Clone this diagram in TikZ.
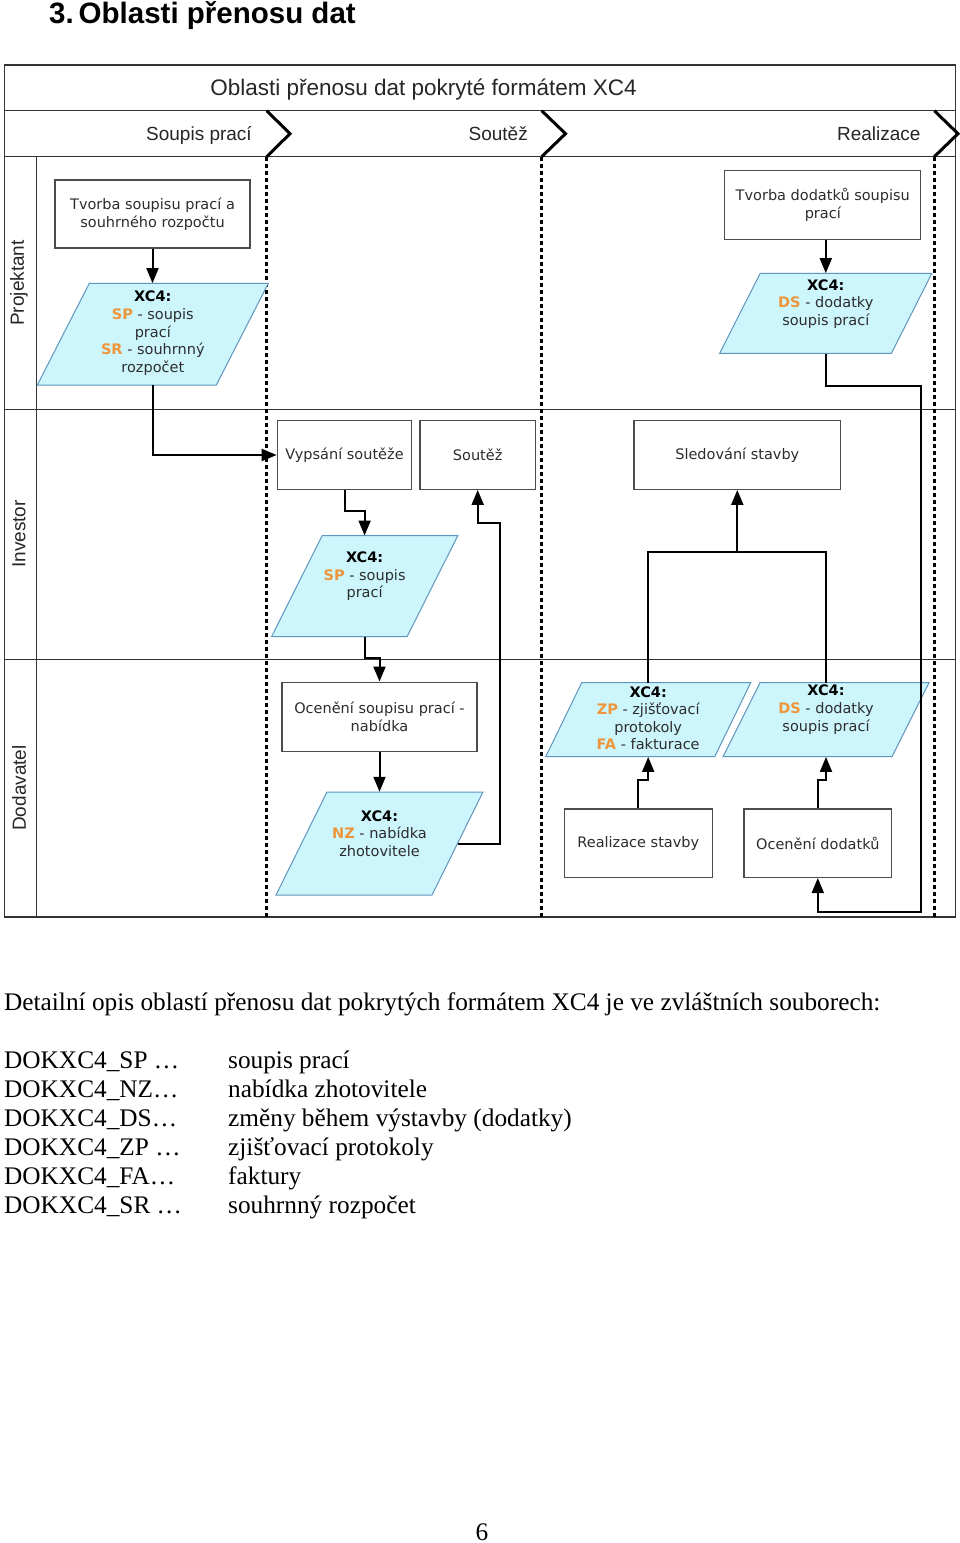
\documentclass[tikz,border=0pt]{standalone}
\usepackage{fontspec}
\setmainfont{Liberation Serif}
\newfontfamily\arialf{Liberation Sans}
\newfontfamily\verdf{DejaVu Sans}
\usetikzlibrary{arrows.meta,calc}
\definecolor{parafill}{RGB}{205,245,252}
\definecolor{paraedge}{RGB}{95,150,190}
\definecolor{xcorange}{RGB}{238,150,60}
\definecolor{boxtext}{RGB}{45,45,45}
\newcommand{\xo}[1]{\textcolor{xcorange}{\textbf{#1}}}
\newcommand{\xcpara}[8]{%
  \path[parashape] ({#2-#4/2+#6/2},{#3-#5/2}) -- ({#2+#4/2+#6/2},{#3-#5/2}) -- ({#2+#4/2-#6/2},{#3+#5/2}) -- ({#2-#4/2-#6/2},{#3+#5/2}) -- cycle;
  \node[paranode, minimum width=#4, minimum height=#5] (#1) at (#2,#3) {};
  \node[paratext] (#1-t) at ({#2},{#3+(#7)}) {#8};
}
\tikzset{
  frame/.style={draw=black!80, line width=1.6pt},
  laneline/.style={draw=black!80, line width=1.3pt},
  phasedot/.style={draw=black, line width=3.2pt, dash pattern=on 4pt off 3pt},
  chev/.style={draw=black, line width=3pt, line join=miter},
  procbox/.style={draw=black!70, line width=1.3pt, fill=white, font=\verdf\fontsize{14.5}{17.5}\selectfont, text=boxtext, align=center, inner sep=0pt},
  parashape/.style={draw=paraedge, fill=parafill, line width=1pt},
  paranode/.style={inner sep=0pt, draw=none},
  paratext/.style={inner sep=0pt, align=center, text=boxtext, font=\verdf\fontsize{14.5}{17.6}\selectfont},
  conn/.style={draw=black, line width=2pt, -{Triangle[length=15pt,width=12pt]}},
  plainconn/.style={draw=black, line width=2pt},
  headtitle/.style={font=\arialf\fontsize{22.5}{26}\selectfont, text=black!85, inner sep=0pt},
  phaselabel/.style={font=\arialf\fontsize{19}{22}\selectfont, text=black!85, inner sep=0pt},
  lanelabel/.style={font=\arialf\fontsize{19}{22}\selectfont, text=black!85, inner sep=0pt, rotate=90},
  bodytext/.style={font=\fontsize{25.3}{30}\selectfont, inner sep=0pt, anchor=base west},
}
\begin{document}
\begin{tikzpicture}[x=1pt,y=-1pt]
\useasboundingbox (0,0) rectangle (960,1543);
\fill[white] (0,0) rectangle (960,1543);

% page heading
\node[font=\arialf\bfseries\fontsize{29.5}{33}\selectfont, anchor=base west, inner sep=0pt] (heading) at (49,23) {3.\,Oblasti přenosu dat};

% frame and lanes
\draw[laneline] (4.5,110.7) -- (955.5,110.7);
\draw[laneline] (4.5,156.7) -- (955.5,156.7);
\draw[laneline] (36.7,156.7) -- (36.7,917);
\draw[laneline] (4.5,409.3) -- (955.5,409.3);
\draw[laneline] (4.5,659.3) -- (955.5,659.3);
\draw[frame] (4.5,65) rectangle (955.5,917);

\node[headtitle, anchor=base] (htitle) at (423.5,95) {Oblasti přenosu dat pokryté formátem XC4};
\node[phaselabel, anchor=base east] (ph1) at (252,140) {Soupis prací};
\node[phaselabel, anchor=base east] (ph2) at (528,140) {Soutěž};
\node[phaselabel, anchor=base east] (ph3) at (920.7,140) {Realizace};

\node[lanelabel] (l1) at (19,283) {Projektant};
\node[lanelabel] (l2) at (19,534) {Investor};
\node[lanelabel] (l3) at (19,788) {Dodavatel};

% phase separators
\draw[phasedot] (266.7,157) -- (266.7,917);
\draw[phasedot] (541.7,157) -- (541.7,917);
\draw[phasedot] (934.3,157) -- (934.3,917);
\draw[chev] (266.7,110.7) -- (290,133.7) -- (266.7,156.7);
\draw[chev] (541.7,110.7) -- (565.5,133.7) -- (541.7,156.7);
\draw[chev] (934.3,110.7) -- (958,133.7) -- (934.3,156.7);

% process boxes
\node[procbox, minimum width=195, minimum height=68] (box1) at (152.5,214) {Tvorba soupisu prací a\\souhrného rozpočtu};
\node[procbox, minimum width=196, minimum height=69] (tdod) at (822.8,204.7) {Tvorba dodatků soupisu\\prací};
\node[procbox, minimum width=134.4, minimum height=68.6] (vyp) at (344.5,455) {Vypsání soutěže};
\node[procbox, minimum width=115.3, minimum height=68.6] (sout) at (477.7,455) {Soutěž};
\node[procbox, minimum width=206.7, minimum height=68.6] (sled) at (737.3,455) {Sledování stavby};
\node[procbox, minimum width=195, minimum height=69] (ocs) at (379.5,716.7) {Ocenění soupisu prací -\\nabídka};
\node[procbox, minimum width=148, minimum height=68.3] (real) at (638.3,843.2) {Realizace stavby};
\node[procbox, minimum width=147.7, minimum height=68.3] (ocd) at (817.8,843.2) {Ocenění dodatků};

% XC4 data parallelograms
\xcpara{p1}{152.8}{334.2}{179}{101.7}{52}{-1}{\textbf{\color{black}XC4:}\\\xo{SP} - soupis\\prací\\\xo{SR} - souhrnný\\rozpočet}
\xcpara{p2}{364.6}{586.2}{135.6}{101}{50.7}{-10}{\textbf{\color{black}XC4:}\\\xo{SP} - soupis\\prací}
\xcpara{nz}{379.5}{843.5}{156}{103}{51}{-10}{\textbf{\color{black}XC4:}\\\xo{NZ} - nabídka\\zhotovitele}
\xcpara{ds1}{825.8}{313.3}{171.7}{80}{40.5}{-9.5}{\textbf{\color{black}XC4:}\\\xo{DS} - dodatky\\soupis prací}
\xcpara{zp}{648.2}{719.7}{169}{74}{36}{-1.5}{\textbf{\color{black}XC4:}\\\xo{ZP} - zjišťovací\\protokoly\\\xo{FA} - fakturace}
\xcpara{ds2}{826}{719.7}{169}{74}{37}{-10}{\textbf{\color{black}XC4:}\\\xo{DS} - dodatky\\soupis prací}

% connectors
\coordinate (nzturn) at (500,523.3);
\coordinate (join) at ($(sled.south)+(0,62)$);
\coordinate (dsturn) at (920.7,912.3);

\draw[conn] (box1.south) -- (box1.south |- p1.north);
\draw[conn] (p1.south) |- (vyp.west);
\draw[conn] (vyp.south) -- ++(0,21) -| (p2.north);
\draw[conn] (p2.south) -- ++(0,21.5) -| (ocs.north);
\draw[conn] (ocs.south) -- (ocs.south |- nz.north);
\draw[conn] (nz.east) -| (nzturn) -| (sout.south);
\draw[plainconn] (zp.north) |- (join) -| (ds2.north);
\draw[conn] (join) -- (sled.south);
\draw[conn] (real.north) -- ++(0,-28) -| (zp.south);
\draw[conn] (ocd.north) -- ++(0,-28) -| (ds2.south);
\draw[conn] (ds1.north |- tdod.south) -- (ds1.north);
\draw[conn] (ds1.south) -- ++(0,32) -| (dsturn) -| (ocd.south);

% text below
\node[bodytext] (desc) at (4,1010) {Detailní opis oblastí přenosu dat pokrytých formátem XC4 je ve zvláštních souborech:};
\node[bodytext] (k1) at (4,1068) {DOKXC4\_SP …};
\node[bodytext] (k2) at (4,1097) {DOKXC4\_NZ…};
\node[bodytext] (k3) at (4,1126) {DOKXC4\_DS…};
\node[bodytext] (k4) at (4,1155) {DOKXC4\_ZP …};
\node[bodytext] (k5) at (4,1184) {DOKXC4\_FA…};
\node[bodytext] (k6) at (4,1213) {DOKXC4\_SR …};
\node[bodytext] (v1) at (228,1068) {soupis prací};
\node[bodytext] (v2) at (228,1097) {nabídka zhotovitele};
\node[bodytext] (v3) at (228,1126) {změny během výstavby (dodatky)};
\node[bodytext] (v4) at (228,1155) {zjišťovací protokoly};
\node[bodytext] (v5) at (228,1184) {faktury};
\node[bodytext] (v6) at (228,1213) {souhrnný rozpočet};
\node[bodytext, anchor=base] (pnum) at (482,1540) {6};
\end{tikzpicture}
\end{document}
